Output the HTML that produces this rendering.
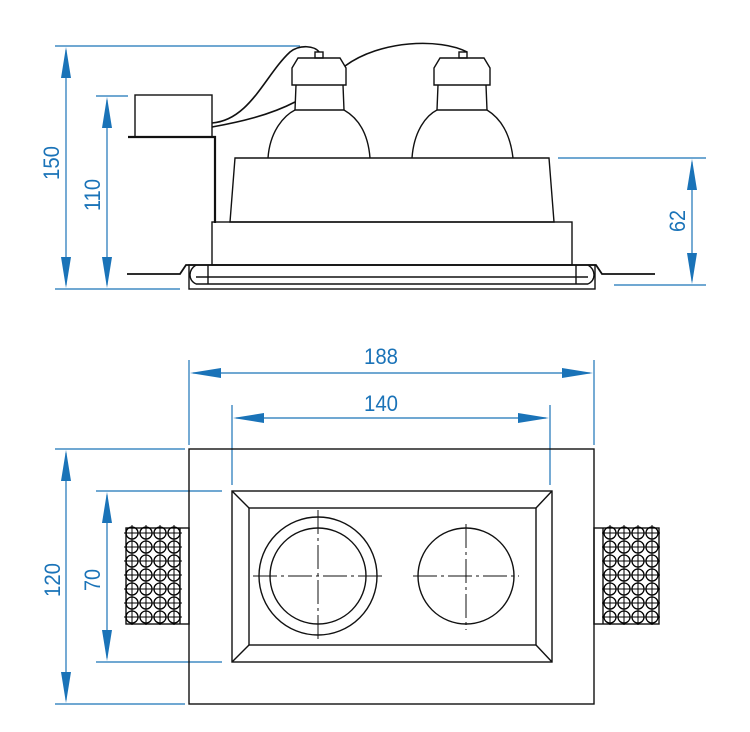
<!DOCTYPE html>
<html><head><meta charset="utf-8"><style>html,body{margin:0;padding:0;background:#fff}svg{display:block}</style></head><body>
<svg width="750" height="732" viewBox="0 0 750 732" xmlns="http://www.w3.org/2000/svg">
<defs>
<g id="ci"><circle r="6" fill="none" stroke="#000" stroke-width="1.3"/><line x1="-8" y1="0" x2="8" y2="0" stroke="#000" stroke-width="1"/><line x1="0" y1="-8" x2="0" y2="8" stroke="#000" stroke-width="1"/></g>
</defs>
<g stroke="#1a73b8" stroke-width="1.2" fill="none">
<line x1="55" y1="46" x2="300" y2="46"/><line x1="55" y1="289" x2="180" y2="289"/>
<line x1="96" y1="96" x2="128" y2="96"/>
<line x1="558" y1="158" x2="706" y2="158"/><line x1="614" y1="285" x2="706" y2="285"/>
<line x1="66" y1="50" x2="66" y2="285"/><line x1="107" y1="100" x2="107" y2="285"/><line x1="692" y1="162" x2="692" y2="281"/>
<line x1="189" y1="360" x2="189" y2="445"/><line x1="594" y1="360" x2="594" y2="445"/>
<line x1="232" y1="405" x2="232" y2="485"/><line x1="550" y1="405" x2="550" y2="485"/>
<line x1="193" y1="373" x2="590" y2="373"/><line x1="236" y1="418" x2="546" y2="418"/>
<line x1="55" y1="449" x2="185" y2="449"/><line x1="55" y1="704" x2="185" y2="704"/>
<line x1="96" y1="491" x2="222" y2="491"/><line x1="96" y1="662" x2="222" y2="662"/>
<line x1="66" y1="453" x2="66" y2="700"/><line x1="107" y1="495" x2="107" y2="658"/>
</g>
<g fill="#1a73b8">
<polygon points="66,47 61,78 71,78"/><polygon points="66,288 61,257 71,257"/>
<polygon points="107,97 102,128 112,128"/><polygon points="107,288 102,257 112,257"/>
<polygon points="692,159 687,190 697,190"/><polygon points="692,284 687,253 697,253"/>
<polygon points="190,373 221,368 221,378"/><polygon points="593,373 562,368 562,378"/>
<polygon points="233,418 264,413 264,423"/><polygon points="549,418 518,413 518,423"/>
<polygon points="66,450 61,481 71,481"/><polygon points="66,703 61,672 71,672"/>
<polygon points="107,492 102,523 112,523"/><polygon points="107,661 102,630 112,630"/>
</g>
<g fill="#1a73b8" font-family="Liberation Sans, sans-serif" font-size="22" text-anchor="middle">
<text transform="translate(59,163) rotate(-90)" textLength="34" lengthAdjust="spacingAndGlyphs">150</text>
<text transform="translate(100,195) rotate(-90)" textLength="32" lengthAdjust="spacingAndGlyphs">110</text>
<text transform="translate(685,221) rotate(-90)" textLength="22" lengthAdjust="spacingAndGlyphs">62</text>
<text x="381" y="364" textLength="34" lengthAdjust="spacingAndGlyphs">188</text>
<text x="381" y="411" textLength="34" lengthAdjust="spacingAndGlyphs">140</text>
<text transform="translate(60,580) rotate(-90)" textLength="34" lengthAdjust="spacingAndGlyphs">120</text>
<text transform="translate(100,580) rotate(-90)" textLength="22" lengthAdjust="spacingAndGlyphs">70</text>
</g>
<g stroke="#111" stroke-width="1.4" fill="none">
<!-- driver -->
<rect x="135" y="95" width="77" height="42"/>
<path d="M128 137 H215 V223" stroke-width="2.2"/>
<path d="M212 123 C250 120 265 75 290 52 C300 44 315 46 319 52" stroke-width="1.6"/>
<path d="M212 127 C240 122 270 115 295 102" stroke-width="1.6"/>
<path d="M345 66 C380 40 440 38 467 52" stroke-width="1.6"/>
<!-- lamp1 -->
<rect x="315" y="52" width="8" height="6"/>
<path d="M292 68 L298 58 H340 L346 68 V85 H292 Z"/>
<path d="M296 85 L295 110 H344 L343 85"/>
<path d="M268 158 C270 130 285 115 295 110 M344 110 C358 118 368 132 370 158"/>
<!-- lamp2 -->
<rect x="459" y="52" width="8" height="6"/>
<path d="M434 68 L440 58 H484 L490 68 V85 H434 Z"/>
<path d="M438 85 L437 110 H487 L486 85"/>
<path d="M412 158 C414 130 427 115 437 110 M487 110 C500 118 510 132 513 158"/>
<!-- body -->
<path d="M235 158 H549 L554 222 H230 Z"/>
<rect x="212" y="222" width="360" height="43"/>
<path d="M127 274 H180 L186 265 H596 L602 274 H655" stroke-width="1.8"/>
<rect x="189" y="265" width="406" height="24"/>
<line x1="196" y1="277" x2="588" y2="277"/><line x1="196" y1="284" x2="588" y2="284"/>
<path d="M196 265 C188 270 188 280 196 284 M588 265 C596 270 596 280 588 284"/>
<line x1="208" y1="265" x2="208" y2="284"/><line x1="576" y1="265" x2="576" y2="284"/>
<!-- bottom view -->
<rect x="189" y="449" width="405" height="255"/>
<rect x="232" y="491" width="320" height="171"/>
<rect x="249" y="508" width="287" height="137"/>
<line x1="232" y1="491" x2="249" y2="508"/><line x1="552" y1="491" x2="536" y2="508"/>
<line x1="232" y1="662" x2="249" y2="645"/><line x1="552" y1="662" x2="536" y2="645"/>
<circle cx="318" cy="576" r="59"/><circle cx="318" cy="576" r="48"/>
<circle cx="466" cy="576" r="48"/>
<rect x="126" y="528" width="63" height="96"/><line x1="180" y1="528" x2="180" y2="624"/>
<rect x="594" y="528" width="65" height="96"/><line x1="603" y1="528" x2="603" y2="624"/>
</g>
<g stroke="#111" stroke-width="1" stroke-dasharray="24,4,3,4">
<line x1="253" y1="576" x2="383" y2="576"/><line x1="318" y1="510" x2="318" y2="642"/>
<line x1="413" y1="576" x2="519" y2="576"/><line x1="466" y1="524" x2="466" y2="630"/>
</g>
<g id="gl">
<use href="#ci" x="132" y="533"/><use href="#ci" x="146" y="533"/><use href="#ci" x="160" y="533"/><use href="#ci" x="174" y="533"/>
<use href="#ci" x="132" y="547"/><use href="#ci" x="146" y="547"/><use href="#ci" x="160" y="547"/><use href="#ci" x="174" y="547"/>
<use href="#ci" x="132" y="561"/><use href="#ci" x="146" y="561"/><use href="#ci" x="160" y="561"/><use href="#ci" x="174" y="561"/>
<use href="#ci" x="132" y="575"/><use href="#ci" x="146" y="575"/><use href="#ci" x="160" y="575"/><use href="#ci" x="174" y="575"/>
<use href="#ci" x="132" y="589"/><use href="#ci" x="146" y="589"/><use href="#ci" x="160" y="589"/><use href="#ci" x="174" y="589"/>
<use href="#ci" x="132" y="603"/><use href="#ci" x="146" y="603"/><use href="#ci" x="160" y="603"/><use href="#ci" x="174" y="603"/>
<use href="#ci" x="132" y="617"/><use href="#ci" x="146" y="617"/><use href="#ci" x="160" y="617"/><use href="#ci" x="174" y="617"/>
</g>
<use href="#gl" x="478" y="0"/>
</svg>
</body></html>
